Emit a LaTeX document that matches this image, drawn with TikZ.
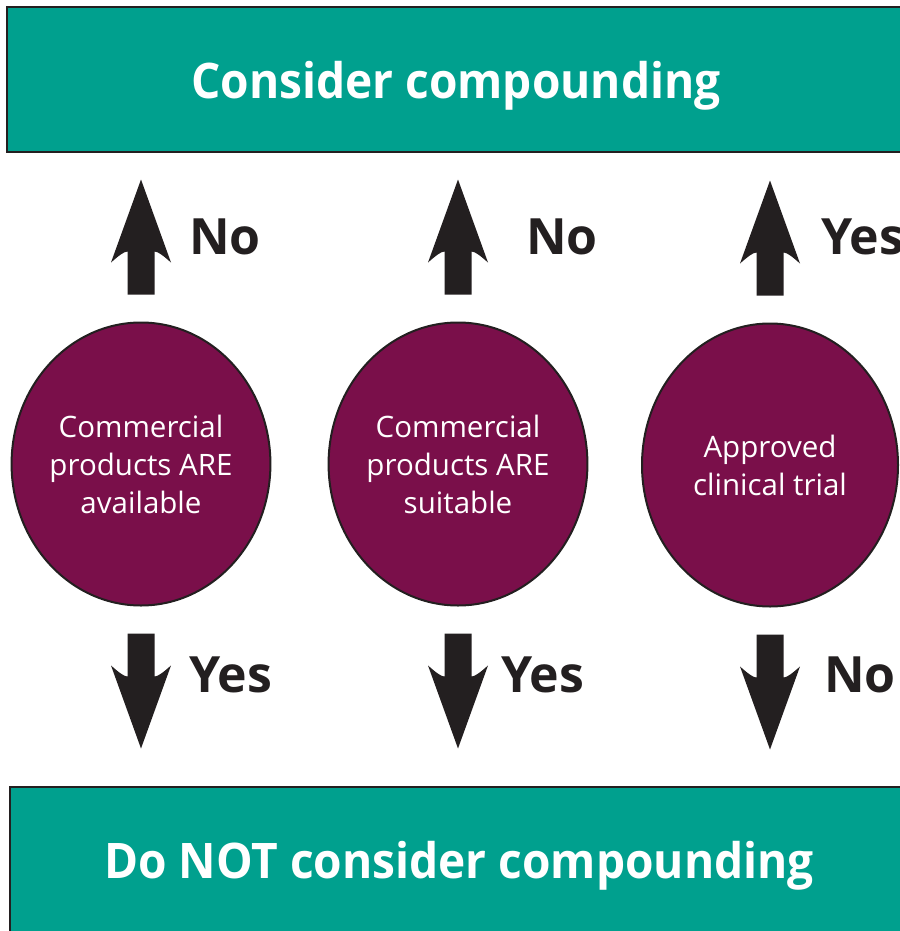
\documentclass[tikz,border=0pt]{standalone}
\usepackage{fontspec}
\setmainfont{Open Sans}
\newfontfamily\boxfont{Open Sans}[FakeStretch=0.94]
\usetikzlibrary{shapes.geometric,calc}

\definecolor{boxgreen}{HTML}{00A08E}
\definecolor{plum}{HTML}{7A0F4A}
\definecolor{ink}{HTML}{231F20}

\tikzset{
    decision/.style={rectangle, draw=ink, line width=2.5pt, fill=boxgreen, text=white,
        font=\boxfont\fontsize{49}{60}\selectfont\bfseries, text depth=0pt,
        minimum width=898pt, minimum height=145pt, inner sep=0pt},
    question/.style={ellipse, draw=ink, line width=2pt, fill=plum, text=white, align=center,
        minimum width=256pt, minimum height=283pt, inner sep=0pt, font=\fontsize{29.5}{38}\selectfont},
    answer/.style={anchor=west, inner sep=0pt, text=ink, font=\fontsize{50}{60}\selectfont\bfseries},
    blockarrow/.pic={
        \fill[ink] (0,0) -- (30,83) .. controls (22,76) and (17,72) .. (13.5,72) -- (13.5,115)
            -- (-13.5,115) -- (-13.5,72) .. controls (-17,72) and (-22,76) .. (-30,83) -- cycle;
    }
}

\begin{document}
\begin{tikzpicture}[x=1pt, y=-1pt]
    \useasboundingbox (0,0) rectangle (899,931);

    % Outcome boxes
    \node[decision] (consider) at (456,79.5) {Consider compounding};
    \node[decision, minimum height=146pt] (donot) at (459,860) {Do NOT consider compounding};

    % Questions
    \node[question] (avail) at (141,464) {Commercial\\products ARE\\available};
    \node[question] (suit) at (458,464) {Commercial\\products ARE\\suitable};
    \node[question] (trial) at (770,465) {Approved\\clinical trial};

    % Arrows up and down
    \foreach \q in {avail, suit, trial} {
        \pic at ($(\q.north)+(0,-142)$) {blockarrow};
        \pic[rotate=180] at ($(\q.south)+(0,142)$) {blockarrow};
    }

    % Answers
    \node[answer] (no1) at (189,237) {No};
    \node[answer] (no2) at (526,237) {No};
    \node[answer] (yes3) at (821,237) {Yes};
    \node[answer] (yes1) at (189,675) {Yes};
    \node[answer] (yes2) at (501,675) {Yes};
    \node[answer] (no3) at (824,675) {No};
\end{tikzpicture}
\end{document}
